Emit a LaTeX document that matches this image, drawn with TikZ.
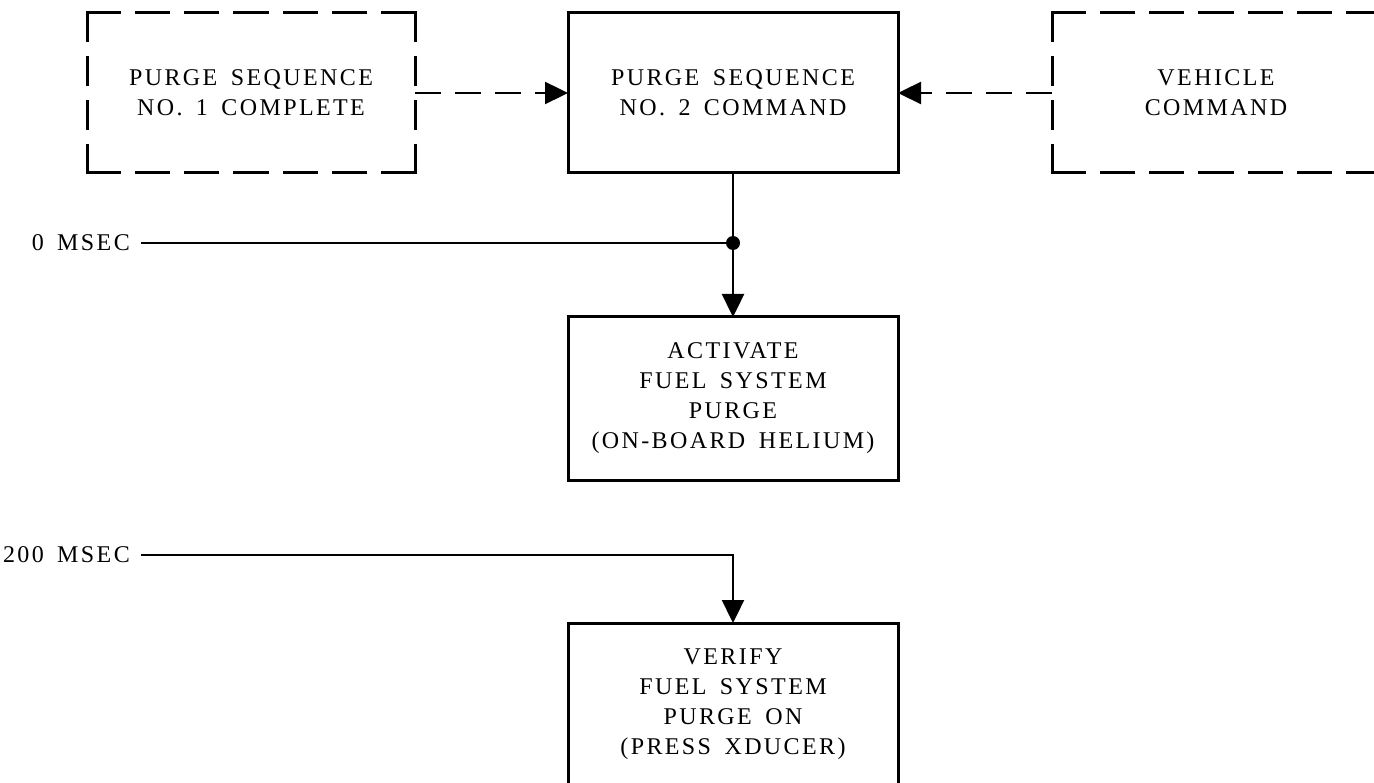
\documentclass[tikz,border=0pt]{standalone}
\usepackage{fontspec}
\setmainfont{Liberation Serif}[LetterSpace=10,WordSpace=1.6]
\usetikzlibrary{arrows.meta}
\begin{document}
\begin{tikzpicture}[x=1pt,y=-1pt,
  txt/.style={font=\fontsize{24}{30}\selectfont},
  box/.style={txt,draw,line width=3pt,minimum width=330pt,minimum height=160pt,inner sep=0pt,outer sep=0pt,align=center},
  dbox/.style={box,draw=none},
  dedge/.style={line width=3pt,line cap=rect},
  hdash/.style={dedge,dash pattern=on 32.29pt off 17pt},
  vdash/.style={dedge,dash pattern=on 27.25pt off 17pt},
  conn/.style={line width=2.4pt,-{Triangle[length=23pt,width=22pt]}},
  dconn/.style={conn,dash pattern=on 26pt off 14pt},
  lbl/.style={txt,anchor=east,inner xsep=11pt,inner ysep=0pt}]
\useasboundingbox (0,0) rectangle (1374,783);
\fill[white] (0,0) rectangle (1374,783);
% boxes
\node[dbox,minimum width=328pt] (A) at (251,93) {PURGE SEQUENCE\\NO. 1 COMPLETE};
\node[box] (B) at (733,93) {PURGE SEQUENCE\\NO. 2 COMMAND};
\node[dbox,minimum width=328pt] (C) at (1216,93) {VEHICLE\\COMMAND};
\node[box,minimum height=163pt] (D) at (733,398.5) {ACTIVATE\\FUEL SYSTEM\\PURGE\\(ON-BOARD HELIUM)};
\node[box,minimum height=162pt] (E) at (733,704) {VERIFY\\FUEL SYSTEM\\PURGE ON\\(PRESS XDUCER)};
% dashed borders, side by side so that every corner is solid
\draw[vdash] (A.south west) -- (A.north west);
\draw[hdash] (A.north west) -- (A.north east);
\draw[vdash] (A.north east) -- (A.south east);
\draw[hdash] (A.south east) -- (A.south west);
\draw[hdash] (C.north west) -- (C.north east);
\draw[vdash] (C.north west) -- (C.south west);
\draw[hdash] (C.south west) -- (C.south east);
% time labels
\node[lbl] (t0) at (141,243) {0 MSEC};
\node[lbl] (t200) at (141,555) {200 MSEC};
\coordinate (j0) at (733,243);
% connectors
\draw[dconn] (A) -- (B);
\draw[dconn] (C) -- (B);
\draw[conn] (B) -- (D);
\draw[line width=2.4pt] (t0.east) -- (j0);
\fill (j0) circle (7pt);
\draw[conn] (t200.east) -| (E.north);
\end{tikzpicture}
\end{document}
